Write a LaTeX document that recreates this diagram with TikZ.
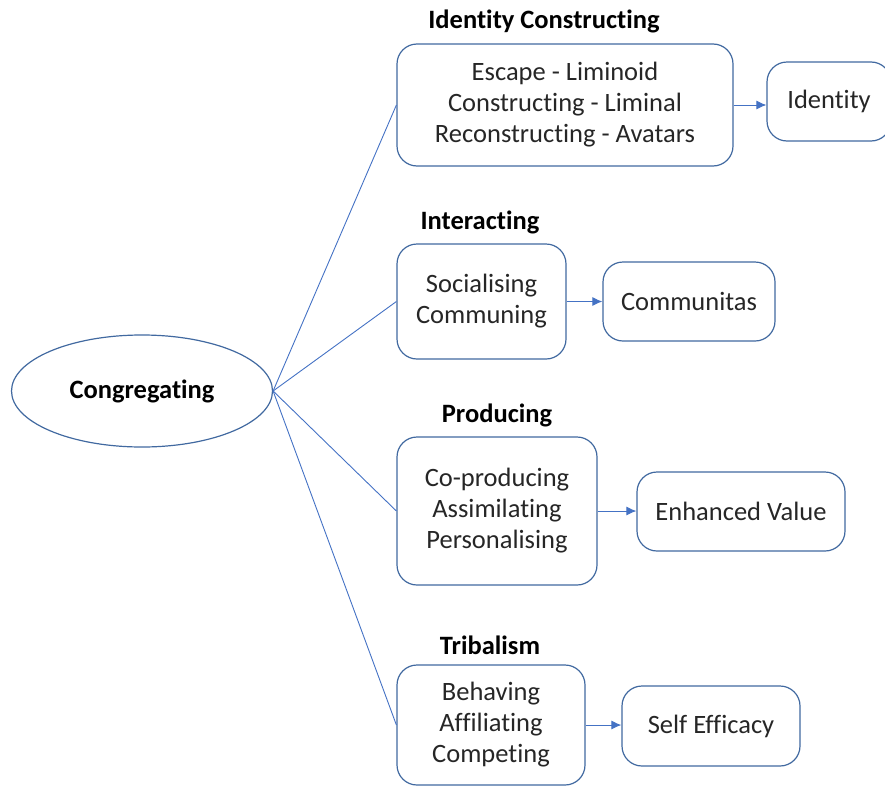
\documentclass[tikz,border=0pt]{standalone}
\usepackage{fontspec}
\setmainfont{Carlito}[Ligatures=NoCommon]
\usetikzlibrary{shapes.geometric,arrows.meta}
\definecolor{edge}{RGB}{65,105,160}
\definecolor{link}{RGB}{68,114,196}
\begin{document}
\begin{tikzpicture}[x=1pt,y=-1pt,
  box/.style={draw=edge,line width=1.2pt,rounded corners=20pt,inner sep=0pt,align=center,
    font=\fontsize{26.5}{31}\selectfont,text=black!85},
  title/.style={font=\fontsize{26.5}{30}\selectfont\bfseries,text=black},
  conn/.style={draw=link,line width=0.9pt},
  arr/.style={draw=link,line width=1pt,-{Latex[length=10pt,width=9pt]}}]
\useasboundingbox (0,0) rectangle (885,787);
\clip (0,0) rectangle (885,787);
\node[draw=edge,line width=1.2pt,ellipse,minimum width=261pt,minimum height=112pt,inner sep=0pt,
  font=\fontsize{26.5}{30}\selectfont\bfseries] (cong) at (142,391) {Congregating};

\node[box,minimum width=336pt,minimum height=122pt] (b1) at (565,105)
  {Escape - Liminoid\\Constructing - Liminal\\Reconstructing - Avatars};
\node[box,minimum width=169pt,minimum height=115pt] (b2) at (481.5,301.5)
  {Socialising\\Communing};
\node[box,minimum width=200pt,minimum height=148pt] (b3) at (497,511)
  {Co-producing\\Assimilating\\Personalising};
\node[box,minimum width=188pt,minimum height=120pt] (b4) at (491,725)
  {Behaving\\Affiliating\\Competing};

\node[box,minimum width=124pt,minimum height=79pt] (o1) at (829,101.5) {Identity};
\node[box,minimum width=172pt,minimum height=79pt] (o2) at (689,301.5) {Communitas};
\node[box,minimum width=208pt,minimum height=79pt] (o3) at (741,511.5) {Enhanced Value};
\node[box,minimum width=178pt,minimum height=80pt] (o4) at (711,726) {Self Efficacy};

\node[title] (t1) at (544,21) {Identity Constructing};
\node[title] (t2) at (480,222) {Interacting};
\node[title] (t3) at (497,415) {Producing};
\node[title] (t4) at (490,645) {Tribalism};

\draw[conn] (cong.east) -- (b1.west);
\draw[conn] (cong.east) -- (b2.west);
\draw[conn] (cong.east) -- (b3.west);
\draw[conn] (cong.east) -- (b4.west);

\draw[arr] (b1.east) -- (b1.east -| o1.west);
\draw[arr] (b2.east) -- (b2.east -| o2.west);
\draw[arr] (b3.east) -- (b3.east -| o3.west);
\draw[arr] (b4.east) -- (b4.east -| o4.west);
\end{tikzpicture}
\end{document}
